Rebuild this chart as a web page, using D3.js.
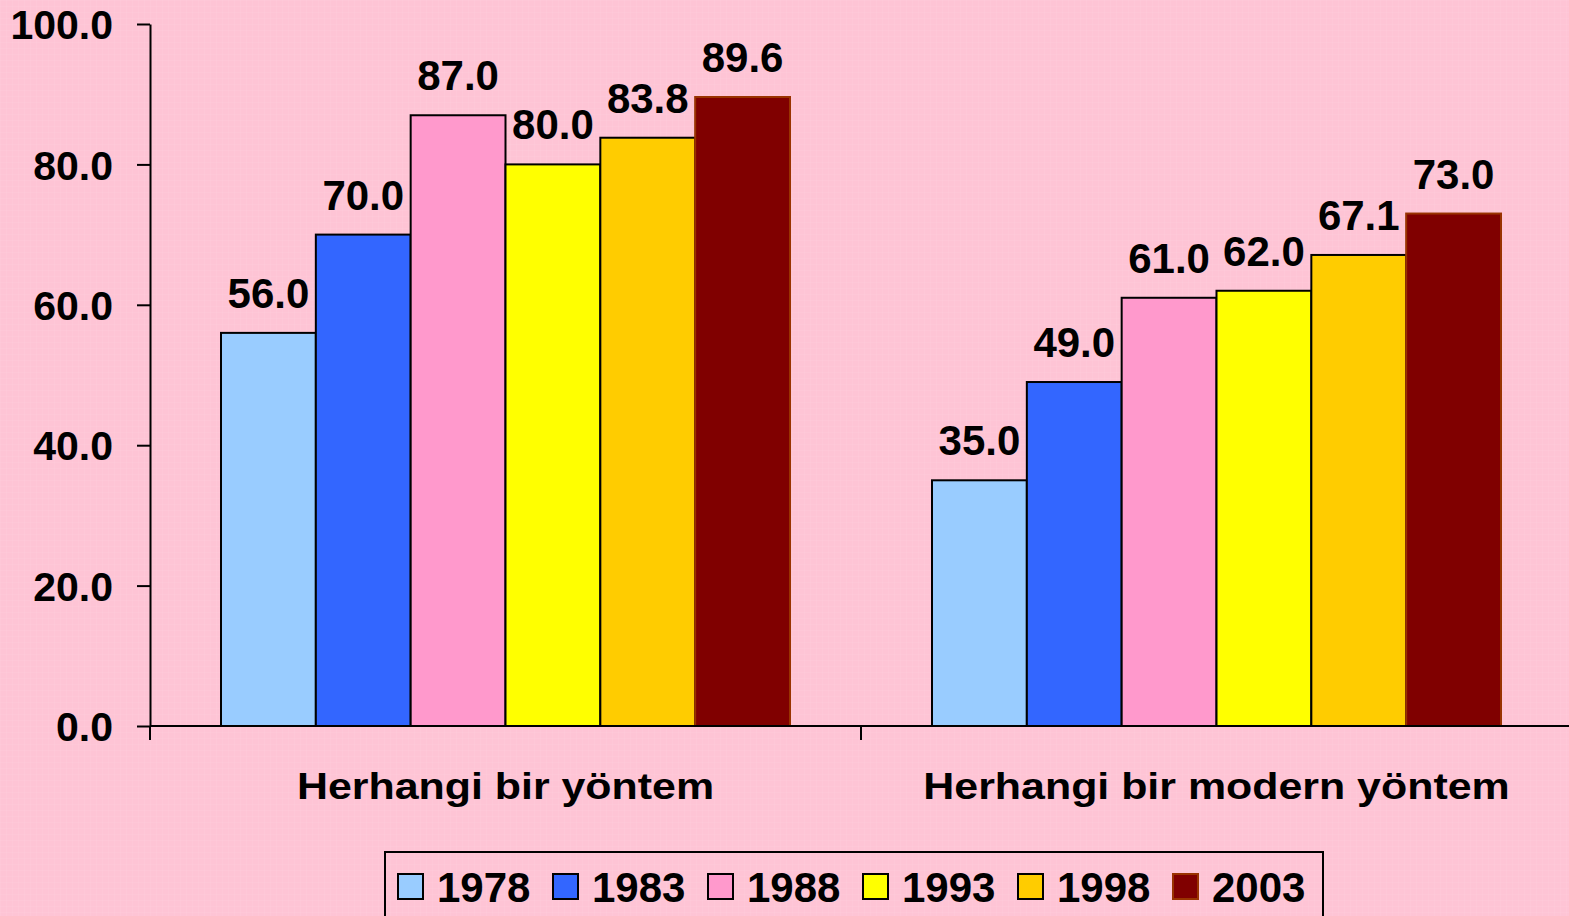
<!DOCTYPE html>
<html><head><meta charset="utf-8">
<script src="https://cdn.jsdelivr.net/npm/d3@7"></script>
<style>
html,body{margin:0;padding:0;background:#fec6d6;}
svg{display:block;font-family:"Liberation Sans",Arial,sans-serif;font-weight:bold;}
</style></head><body>
<svg id="c" width="1569" height="916"></svg>
<script>
const categories = ["Herhangi bir yöntem", "Herhangi bir modern yöntem"];
const years = ["1978", "1983", "1988", "1993", "1998", "2003"];
const values1978 = [56.0, 35.0];
const values1983 = [70.0, 49.0];
const values1988 = [87.0, 61.0];
const values1993 = [80.0, 62.0];
const values1998 = [83.8, 67.1];
const values2003 = [89.6, 73.0];
const yTicks = [0, 20, 40, 60, 80, 100];
const colors = ["#99ccff", "#3366ff", "#ff99cc", "#ffff00", "#ffcc00", "#800000"];
const strokes = ["#000", "#000", "#000", "#000", "#000", "#993300"];

const seriesValues = [values1978, values1983, values1988, values1993, values1998, values2003];
const svg = d3.select("#c");

// background
svg.append("rect").attr("width",1569).attr("height",916).attr("fill","#fec4d5");
const pat = svg.append("defs").append("pattern").attr("id","grid").attr("width",6).attr("height",6).attr("patternUnits","userSpaceOnUse");
pat.append("path").attr("d","M6 0 L0 0 0 6").attr("fill","none").attr("stroke","#ffd6e2").attr("stroke-width",0.6);
svg.append("rect").attr("width",1569).attr("height",916).attr("fill","url(#grid)").attr("opacity",0.5);

const y = d3.scaleLinear().domain([0,100]).range([726,24]);
const x0 = d3.scaleBand().domain(categories).range([150,1572]);
const x1 = d3.scaleBand().domain(years).range([71, 640]);

// bars
categories.forEach((cat, ci) => {
  const g = svg.append("g").attr("transform", `translate(${x0(cat)},0)`);
  years.forEach((yr, si) => {
    const v = seriesValues[si][ci];
    g.append("rect")
      .attr("x", x1(yr)).attr("y", y(v))
      .attr("width", x1.bandwidth()).attr("height", y(0)-y(v))
      .attr("fill", colors[si]).attr("stroke", strokes[si]).attr("stroke-width", 2);
  });
  years.forEach((yr, si) => {
    const v = seriesValues[si][ci];
    g.append("text")
      .attr("x", x1(yr)+x1.bandwidth()/2).attr("y", y(v)-25)
      .attr("text-anchor","middle").attr("font-size",42).attr("fill","#000")
      .text(d3.format(".1f")(v));
  });
});

// y axis
const yAxis = d3.axisLeft(y).tickValues(yTicks).tickFormat(d3.format(".1f")).tickSize(13).tickSizeOuter(0).tickPadding(24);
const ya = svg.append("g").attr("transform","translate(150,0)").call(yAxis);
ya.selectAll("path,line").attr("stroke","#000").attr("stroke-width",2);
ya.selectAll("text").attr("font-size",41).attr("font-family","Liberation Sans, Arial, sans-serif").attr("font-weight","bold").attr("fill","#000").attr("dy","0.36em");
ya.append("line").attr("x1",0).attr("x2",0).attr("y1",726).attr("y2",740).attr("stroke","#000").attr("stroke-width",2);

// x axis
const xa = svg.append("g").attr("transform","translate(0,726)");
xa.append("line").attr("x1",150).attr("x2",1569).attr("y1",0).attr("y2",0).attr("stroke","#000").attr("stroke-width",2);
categories.forEach(cat => {
  xa.append("line").attr("x1",x0(cat)).attr("x2",x0(cat)).attr("y1",0).attr("y2",14).attr("stroke","#000").attr("stroke-width",2);
  const cx = x0(cat)+x0.bandwidth()/2;
  xa.append("text").attr("transform",`translate(${cx},73) scale(1.16,1)`)
    .attr("text-anchor","middle").attr("font-size",37).attr("fill","#000").text(cat);
});

// legend
const lg = svg.append("g");
lg.append("rect").attr("x",385).attr("y",852).attr("width",938).attr("height",80)
  .attr("fill","none").attr("stroke","#000").attr("stroke-width",2);
years.forEach((yr, i) => {
  const lx = 398 + i*155;
  lg.append("rect").attr("x",lx).attr("y",874).attr("width",25).attr("height",25)
    .attr("fill",colors[i]).attr("stroke", i===5 ? "#993300" : "#000").attr("stroke-width",2);
  lg.append("text").attr("x",lx+39).attr("y",902).attr("font-size",42).attr("fill","#000").text(yr);
});
</script>
</body></html>
